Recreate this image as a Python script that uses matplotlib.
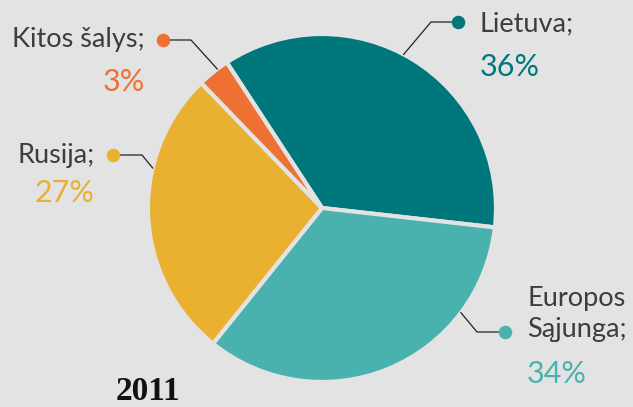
import numpy as np
import matplotlib.pyplot as plt

# data
labels = ['Lietuva;', 'Europos\nSąjunga;', 'Rusija;', 'Kitos šalys;']
shares = [36, 34, 27, 3]
colors = ['#00777b', '#4ab2ae', '#eab030', '#ef7033']
year = '2011'

bg = '#e3e3e3'
W, H = 633, 407

fig = plt.figure(figsize=(W / 100, H / 100), dpi=100, facecolor=bg)
ax = fig.add_axes([0, 0, 1, 1])
ax.set_facecolor(bg)

cx, cy, r = 322, H - 208, 174
wedges, _ = ax.pie(shares, colors=colors, startangle=123.2, counterclock=False,
                   center=(cx, cy), radius=r,
                   wedgeprops=dict(edgecolor=bg, linewidth=3))
ax.set_xlim(0, W)
ax.set_ylim(0, H)
ax.set_aspect('equal')
ax.axis('off')

# leader lines: (angle on pie, elbow, dot) in pixel coords (y down)
leaders = [
    (62, (431, 22), (458, 22)),
    (-37, (477, 332), (505, 332)),
    (166.7, (142, 155), (113, 155)),
    (127, (191, 40), (163, 40)),
]
# text anchors: (x, y label, y pct, ha)
texts = [
    (480, 24, 67, 'left'),
    (527, 314, 374, 'left'),
    (95, 156, 193, 'right'),
    (145, 39, 82, 'right'),
]

font = 'Lato'
for lab, s, c, (ang, elbow, dot), (tx, ty, py, ha) in zip(labels, shares, colors, leaders, texts):
    a = np.deg2rad(ang)
    px, py0 = cx + r * np.cos(a), cy + r * np.sin(a)
    ax.plot([px, elbow[0], dot[0]], [py0, H - elbow[1], H - dot[1]],
            color='#222222', lw=0.9, zorder=3)
    ax.scatter([dot[0]], [H - dot[1]], s=95, color=c, zorder=4, linewidths=0)
    ax.text(tx, H - ty, lab, ha=ha, va='center', fontsize=19.5, family=font,
            color='#3d3d3d', linespacing=1.3)
    ax.text(tx, H - py, f'{s}%', ha=ha, va='center', fontsize=22, family=font,
            color=c)

ax.text(148, 0.5, year, ha='center', va='bottom', fontsize=24,
        family='Liberation Serif', weight='bold', color='#111111')

fig.savefig('out.png', dpi=100, facecolor=bg)
